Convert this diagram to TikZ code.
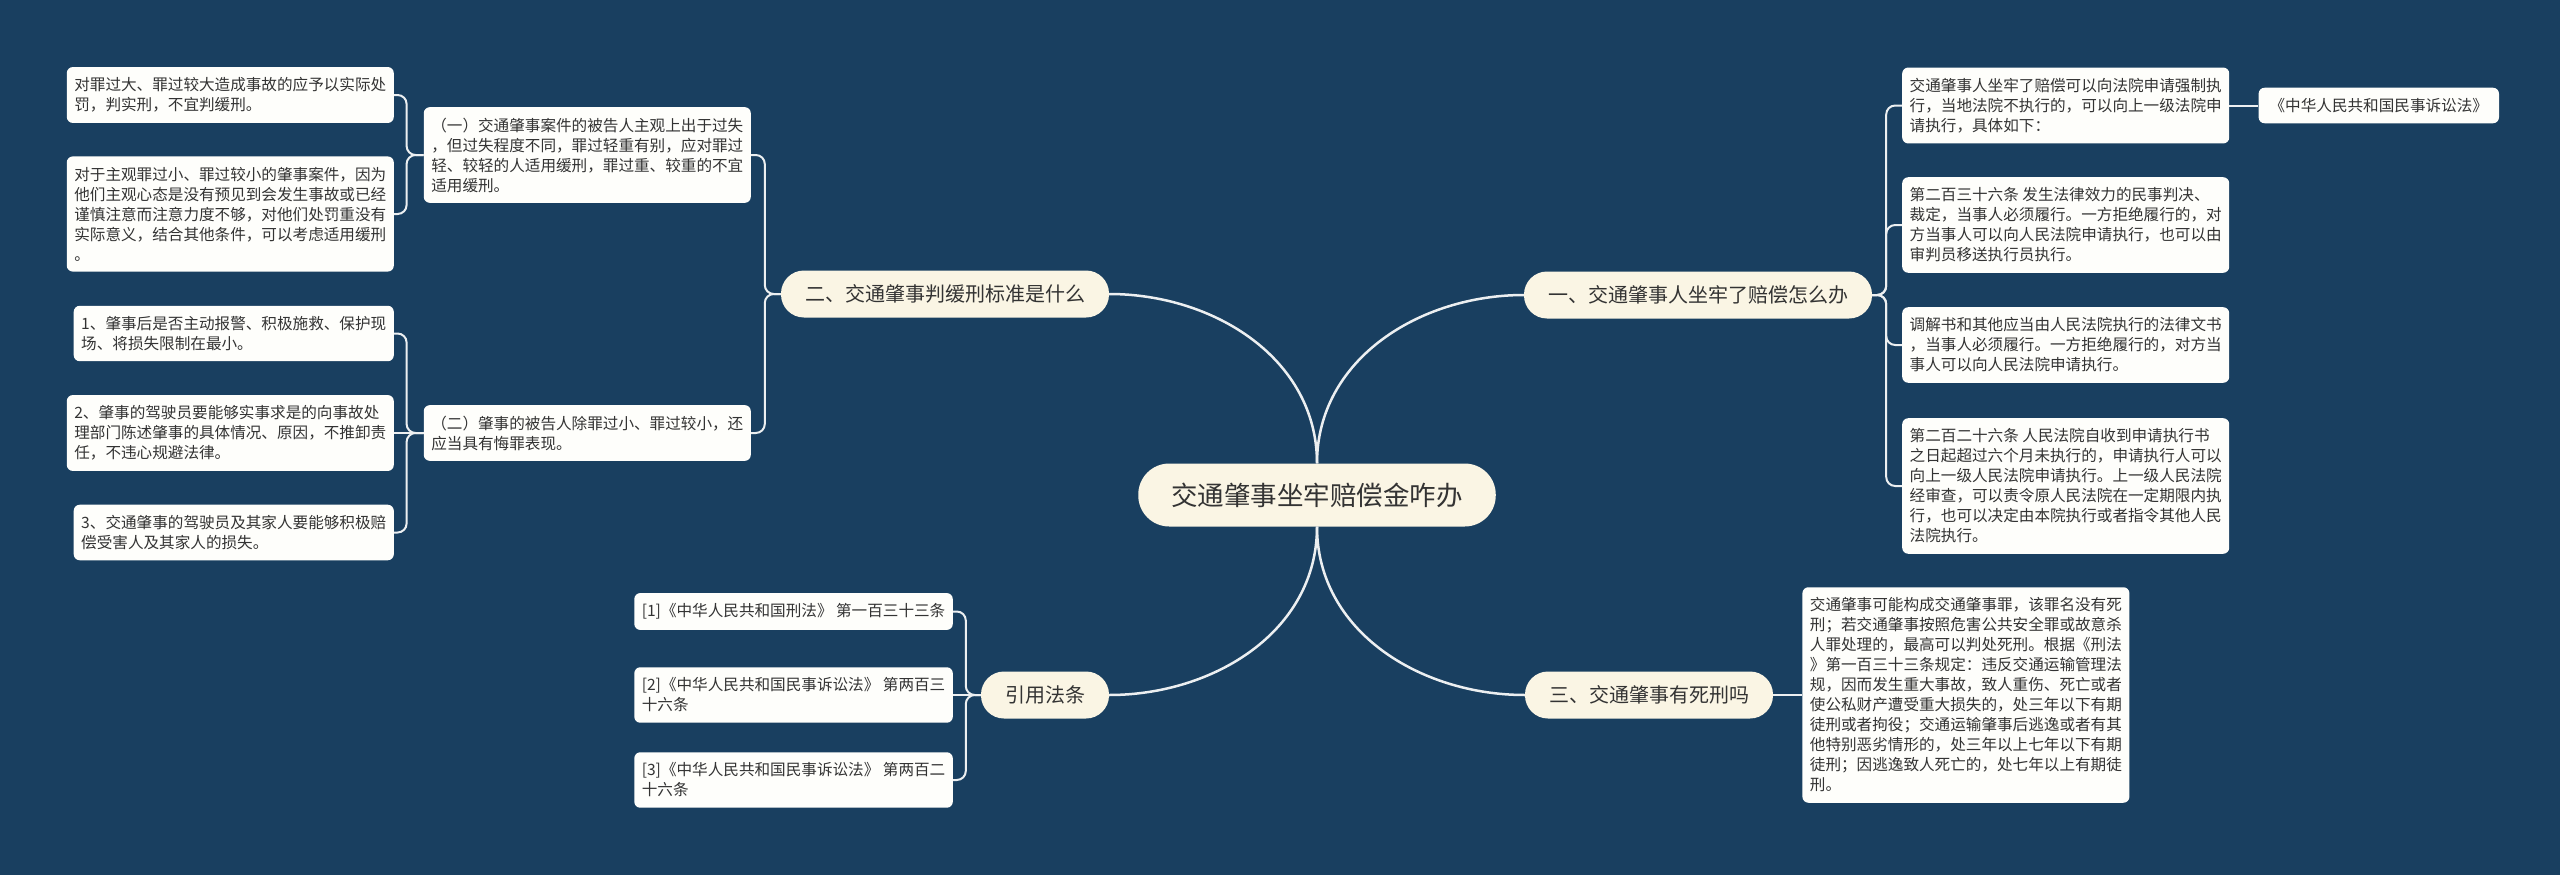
\documentclass[tikz,border=0pt]{standalone}
\usepackage{fontspec}
\newfontfamily\cjk{Noto Sans CJK SC}
\usetikzlibrary{positioning}
\definecolor{bgblue}{RGB}{25,63,96}
\definecolor{pillfill}{RGB}{250,245,228}
\definecolor{leaffill}{RGB}{254,254,251}
\definecolor{inktext}{RGB}{51,51,51}
\definecolor{linkline}{RGB}{236,239,241}

\begin{document}
\begin{tikzpicture}[
        x=1pt, y=-1pt,
        node distance=29pt,
        rootbox/.style={rectangle, rounded corners=31pt, fill=pillfill, text=inktext, font=\cjk\fontsize{26.5}{30}\selectfont, minimum height=63pt, inner xsep=33pt},
        pill/.style={rectangle, rounded corners=23pt, fill=pillfill, text=inktext, font=\cjk\fontsize{20}{24}\selectfont, minimum height=47pt, inner xsep=24pt},
        leaf/.style={rectangle, rounded corners=6pt, fill=leaffill, text=inktext, font=\cjk\fontsize{15.6}{20}\selectfont, align=left, inner xsep=7.5pt, inner ysep=10.5pt},
        trunk/.style={draw=linkline, line width=2.5pt},
        link/.style={draw=linkline, line width=2pt, rounded corners=9pt}
    ]
        \fill[bgblue] (0,0) rectangle (2560,875);

        % centre and main branches
        \node[rootbox] (root) at (1317,495) {交通肇事坐牢赔偿金咋办};
        \node[pill] (compens) at (1698,295) {一、交通肇事人坐牢了赔偿怎么办};
        \node[pill] (probation) at (945,294) {二、交通肇事判缓刑标准是什么};
        \node[pill] (deathpen) at (1649,695) {三、交通肇事有死刑吗};
        \node[pill] (statutes) at (1045,695) {引用法条};

        % branch one
        \node[leaf, anchor=west] (compA) at (1902,105.5) {交通肇事人坐牢了赔偿可以向法院申请强制执\\行，当地法院不执行的，可以向上一级法院申\\请执行，具体如下：};
        \node[leaf, inner xsep=11pt, right=29pt of compA] (civilcode) {《中华人民共和国民事诉讼法》};
        \node[leaf, anchor=west] (compB) at (1902,225) {第二百三十六条 发生法律效力的民事判决、\\裁定，当事人必须履行。一方拒绝履行的，对\\方当事人可以向人民法院申请执行，也可以由\\审判员移送执行员执行。};
        \node[leaf, anchor=west] (compC) at (1902,345) {调解书和其他应当由人民法院执行的法律文书\\，当事人必须履行。一方拒绝履行的，对方当\\事人可以向人民法院申请执行。};
        \node[leaf, anchor=west] (compD) at (1902,486) {第二百二十六条 人民法院自收到申请执行书\\之日起超过六个月未执行的，申请执行人可以\\向上一级人民法院申请执行。上一级人民法院\\经审查，可以责令原人民法院在一定期限内执\\行，也可以决定由本院执行或者指令其他人民\\法院执行。};

        % branch two
        \node[leaf, anchor=east] (probA) at (751,155) {（一）交通肇事案件的被告人主观上出于过失\\，但过失程度不同，罪过轻重有别，应对罪过\\轻、较轻的人适用缓刑，罪过重、较重的不宜\\适用缓刑。};
        \node[leaf, anchor=east] (probB) at (751,433) {（二）肇事的被告人除罪过小、罪过较小，还\\应当具有悔罪表现。};
        \node[leaf, anchor=east] (probA1) at (394,95) {对罪过大、罪过较大造成事故的应予以实际处\\罚，判实刑，不宜判缓刑。};
        \node[leaf, anchor=east] (probA2) at (394,214) {对于主观罪过小、罪过较小的肇事案件，因为\\他们主观心态是没有预见到会发生事故或已经\\谨慎注意而注意力度不够，对他们处罚重没有\\实际意义，结合其他条件，可以考虑适用缓刑\\。};
        \node[leaf, anchor=east] (probB1) at (394,333.5) {1、肇事后是否主动报警、积极施救、保护现\\场、将损失限制在最小。};
        \node[leaf, anchor=east] (probB2) at (394,433) {2、肇事的驾驶员要能够实事求是的向事故处\\理部门陈述肇事的具体情况、原因，不推卸责\\任，不违心规避法律。};
        \node[leaf, anchor=east] (probB3) at (394,532.5) {3、交通肇事的驾驶员及其家人要能够积极赔\\偿受害人及其家人的损失。};

        % branch three
        \node[leaf, right=29pt of deathpen] (deathA) {交通肇事可能构成交通肇事罪，该罪名没有死\\刑；若交通肇事按照危害公共安全罪或故意杀\\人罪处理的，最高可以判处死刑。根据《刑法\\》第一百三十三条规定：违反交通运输管理法\\规，因而发生重大事故，致人重伤、死亡或者\\使公私财产遭受重大损失的，处三年以下有期\\徒刑或者拘役；交通运输肇事后逃逸或者有其\\他特别恶劣情形的，处三年以上七年以下有期\\徒刑；因逃逸致人死亡的，处七年以上有期徒\\刑。};

        % cited statutes
        \node[leaf, anchor=east] (lawA) at (953,611.5) {[1]《中华人民共和国刑法》 第一百三十三条};
        \node[leaf, anchor=east] (lawB) at (953,695) {[2]《中华人民共和国民事诉讼法》 第两百三\\十六条};
        \node[leaf, anchor=east] (lawC) at (953,780) {[3]《中华人民共和国民事诉讼法》 第两百二\\十六条};

        % connectors
        \draw[trunk] (root.north) to[out=90, in=180] (compens.west);
        \draw[trunk] (root.north) to[out=90, in=0] (probation.east);
        \draw[trunk] (root.south) to[out=-90, in=180] (deathpen.west);
        \draw[trunk] (root.south) to[out=-90, in=0] (statutes.east);

        \foreach \kid in {compA, compB, compC, compD}
            \draw[link] (compens.east) -- ++(14,0) |- (\kid.west);
        \draw[link] (compA) -- (civilcode);

        \foreach \kid in {probA, probB}
            \draw[link] (probation.west) -- ++(-16,0) |- (\kid.east);
        \foreach \kid in {probA1, probA2}
            \draw[link] (probA.west) -- ++(-17,0) |- (\kid.east);
        \foreach \kid in {probB1, probB3}
            \draw[link] (probB.west) -- ++(-17,0) |- (\kid.east);
        \draw[link] (probB) -- (probB2);

        \draw[link] (deathpen) -- (deathA);

        \foreach \kid in {lawA, lawC}
            \draw[link] (statutes.west) -- ++(-15,0) |- (\kid.east);
        \draw[link] (statutes) -- (lawB);
\end{tikzpicture}
\end{document}
